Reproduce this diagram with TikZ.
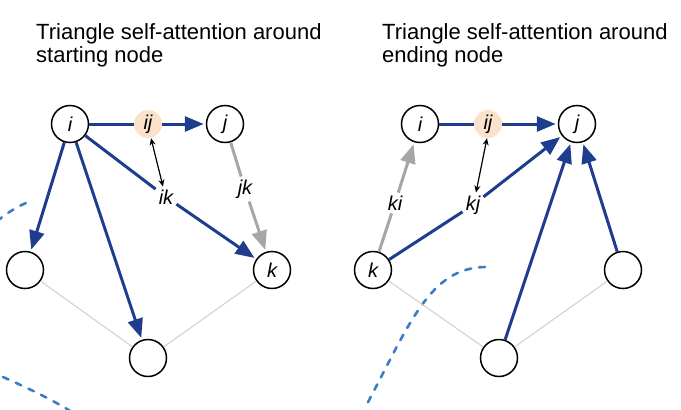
\documentclass[tikz,border=0pt]{standalone}
\usepackage{fontspec}
\setmainfont{Liberation Sans}
\usetikzlibrary{arrows.meta}
\definecolor{navy}{HTML}{1F3D8E}
\definecolor{peach}{HTML}{FBE2CB}
\definecolor{grayarr}{HTML}{A4A6A8}
\definecolor{thingray}{HTML}{D2D2D2}
\definecolor{dashblue}{HTML}{3B7DC4}
\newcommand{\lblfont}{\fontsize{20}{20}\selectfont\itshape}
\newcommand{\ttlfont}{\fontsize{22}{23.4}\selectfont}
\begin{document}
\begin{tikzpicture}[x=1pt,y=-1pt,
  nd/.style={circle, draw=black, line width=1.5pt, minimum size=37pt, inner sep=0pt, fill=white, font=\lblfont},
  pc/.style={circle, fill=peach, minimum size=28pt, inner sep=0pt, font=\lblfont},
  lb/.style={inner sep=3pt, font=\lblfont},
  ttl/.style={anchor=base west, inner sep=0pt, font=\ttlfont},
  blu/.style={draw=navy, line width=3pt},
  bluarr/.style={blu, -{Triangle[length=19pt,width=15pt]}, shorten >=2pt},
  gryarr/.style={draw=grayarr, line width=3pt, -{Triangle[length=19pt,width=15pt]}, shorten >=2pt},
  gry/.style={draw=grayarr, line width=3pt},
  thinln/.style={draw=thingray, line width=1.1pt},
  dbl/.style={line width=1.2pt, {Stealth[length=7pt,width=6pt]}-{Stealth[length=7pt,width=6pt]}},
  dsh/.style={draw=dashblue, line width=2.6pt, line cap=round, dash pattern=on 6pt off 8pt}
]
\useasboundingbox (0,0) rectangle (681,410);
\begin{scope}
\clip (0,0) rectangle (681,410);
% titles
\node[ttl] (t1a) at (36,39.3) {Triangle self-attention around};
\node[ttl] (t1b) at (36,62.7) {starting node};
\node[ttl] (t2a) at (382,39.3) {Triangle self-attention around};
\node[ttl] (t2b) at (382,62.7) {ending node};

% dashed curves
\draw[dsh] (-3,221) .. controls (5,215) and (14,208) .. (26,203);
\draw[dsh] (3,377) .. controls (25,387) and (50,398) .. (75,414);
\draw[dsh] (485,267) .. controls (430,268) and (410,323) .. (367,404);

% ---------- left panel ----------
\node[nd] (Li) at (70,124) {i};
\node[pc] (Lij) at (148,124) {ij};
\node[nd] (Lj) at (225,124) {j};
\node[nd] (La) at (25,270) {};
\node[nd] (Lk) at (272,270) {k};
\node[nd] (Lb) at (148,358) {};
\node[lb] (Lik) at (166,197) {ik};
\node[lb] (Ljk) at (245,189) {jk};

\draw[thinln] (La) -- (Lb);
\draw[thinln] (Lb) -- (Lk);
\draw[blu] (Li) -- (Lij);
\draw[bluarr] (Lij) -- (Lj);
\draw[bluarr] (Li) -- (La);
\draw[bluarr] (Li) -- (Lb);
\draw[blu] (Li) -- (Lik);
\draw[bluarr] (Lik) -- (Lk);
\draw[gry] (Lj) -- (Ljk);
\draw[gryarr] (Ljk) -- (Lk);
\draw[dbl] ([xshift=3pt]Lij.south) -- ([xshift=-3pt]Lik.north);

% ---------- right panel ----------
\node[nd] (Ri) at (420,124) {i};
\node[pc] (Rij) at (488,124) {ij};
\node[nd] (Rj) at (577,124) {j};
\node[nd] (Rk) at (373,270) {k};
\node[nd] (Rc) at (623,270) {};
\node[nd] (Rb) at (499,358) {};
\node[lb] (Rki) at (395,203) {ki};
\node[lb] (Rkj) at (473,205) {kj};

\draw[thinln] (Rk) -- (Rb);
\draw[thinln] (Rb) -- (Rc);
\draw[blu] (Ri) -- (Rij);
\draw[bluarr] (Rij) -- (Rj);
\draw[gry] (Rk) -- (Rki);
\draw[gryarr] (Rki) -- (Ri);
\draw[blu] (Rk) -- (Rkj);
\draw[bluarr] (Rkj) -- (Rj);
\draw[bluarr] (Rb) -- (Rj);
\draw[bluarr] (Rc) -- (Rj);
\draw[dbl] ([xshift=-1pt]Rij.south) -- ([xshift=3pt]Rkj.north);
\end{scope}
\end{tikzpicture}
\end{document}
